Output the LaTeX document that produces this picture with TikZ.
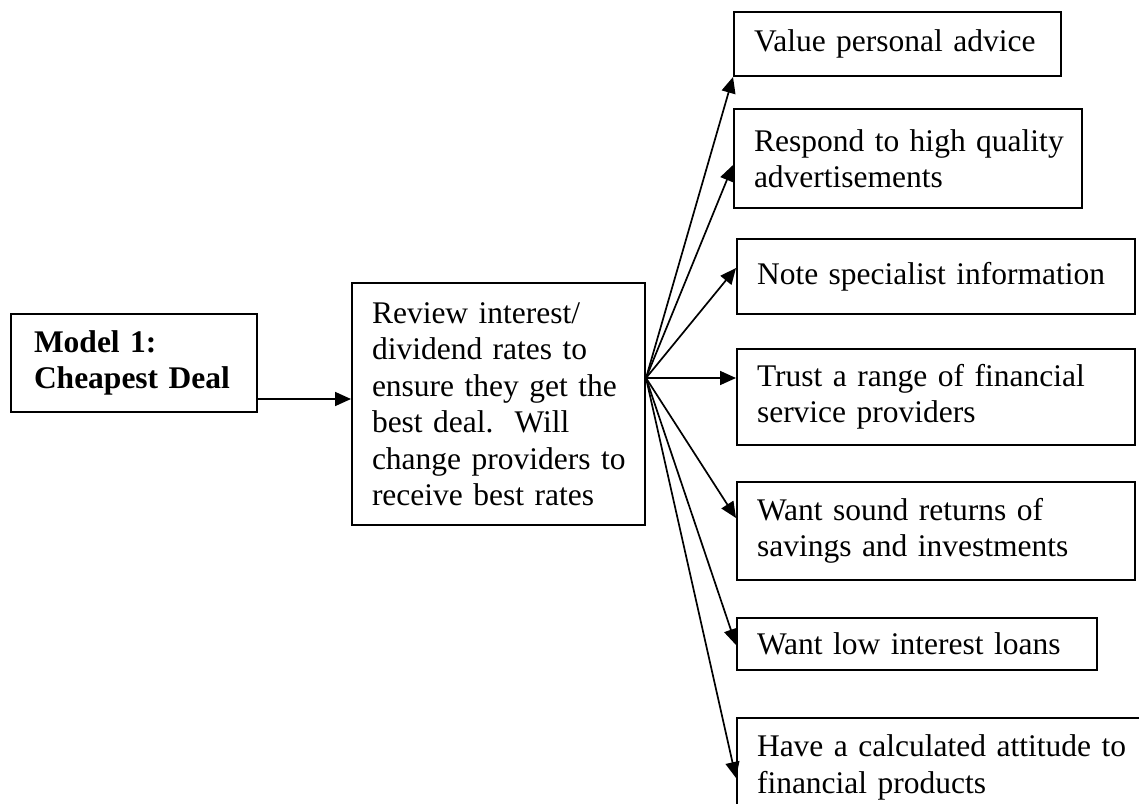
\documentclass[tikz,border=0pt]{standalone}
\usepackage{fontspec}
\setmainfont{Liberation Serif}
\usetikzlibrary{arrows.meta,calc}
\tikzset{
  boxnode/.style={draw=black, line width=2pt, rectangle, anchor=north west,
    inner xsep=20pt, inner ysep=0pt, align=left,
    font=\fontsize{31.5}{36.5}\selectfont},
  arr/.style={line width=1.7pt, -{Triangle[length=16pt,width=14pt]}}
}
\begin{document}
\begin{tikzpicture}[x=1pt,y=-1pt]
\useasboundingbox (0,0) rectangle (1139,803);
\clip (0,0) rectangle (1139,803);
% left boxes
\node[boxnode, inner xsep=23pt, text width=200pt, minimum height=98pt,
  font=\fontsize{31.5}{36.5}\selectfont\bfseries] (m) at (10,313)
  {\mbox{Model 1:}\\\mbox{Cheapest Deal}};
\node[boxnode, text width=253pt, minimum height=242pt] (c) at (351,282)
  {\mbox{Review interest/}\\\mbox{dividend rates to}\\\mbox{ensure they get the}\\\mbox{best deal.\ \ Will}\\\mbox{change providers to}\\\mbox{receive best rates}};
% right boxes
\node[boxnode, text width=287pt, minimum height=64pt] (b1) at (733,11)
  {\mbox{Value personal advice}};
\node[boxnode, text width=308pt, minimum height=99pt] (b2) at (733,108)
  {\mbox{Respond to high quality}\\\mbox{advertisements}};
\node[boxnode, text width=358pt, minimum height=75pt] (b3) at (736,238)
  {\mbox{Note specialist information}};
\node[boxnode, text width=358pt, minimum height=96pt] (b4) at (736,348)
  {\mbox{Trust a range of financial}\\\mbox{service providers}};
\node[boxnode, text width=358pt, minimum height=98pt] (b5) at (736,481)
  {\mbox{Want sound returns of}\\\mbox{savings and investments}};
\node[boxnode, text width=320pt, minimum height=52pt] (b6) at (736,617)
  {\mbox{Want low interest loans}};
\node[boxnode, text width=380pt, minimum height=99pt] (b7) at (736,717)
  {\mbox{Have a calculated attitude to}\\\mbox{financial products}};
% connectors
\draw[arr] ($(m.south east)+(0,-14)$) -- ($(c.south west)+(0,-127)$);
\coordinate (o) at ($(c.north east)+(0,96)$);
\draw[arr] (o) -- (b1.south west);
\draw[arr] (o) -- ($(b2.north west)+(0,57)$);
\draw[arr] (o) -- ($(b3.north west)+(0,30)$);
\draw[arr] (o) -- ($(b4.north west)+(0,30)$);
\draw[arr] (o) -- ($(b5.north west)+(0,37)$);
\draw[arr] (o) -- ($(b6.north west)+(0,28)$);
\draw[arr] (o) -- ($(b7.north west)+(0,61)$);
\end{tikzpicture}
\end{document}
